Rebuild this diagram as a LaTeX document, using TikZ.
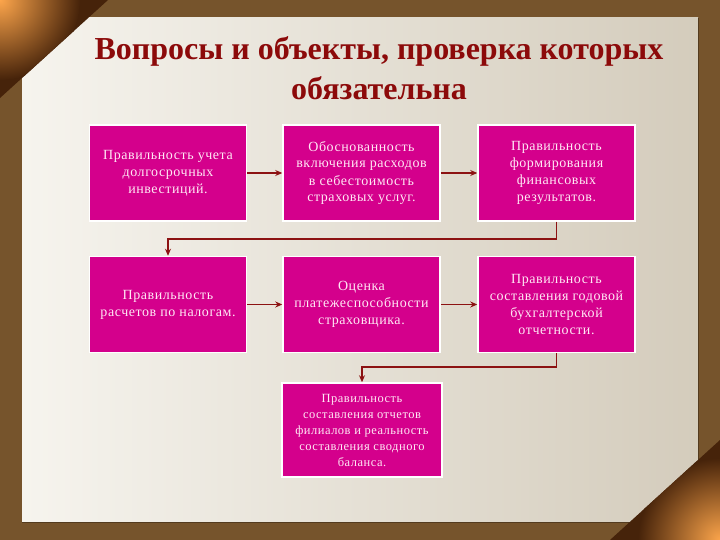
\documentclass[tikz,border=0pt]{standalone}
\usepackage{fontspec}
\setmainfont{Liberation Serif}
\newfontfamily\boxfont[LetterSpace=4]{Liberation Serif}
\usetikzlibrary{arrows.meta}
\definecolor{frame}{RGB}{118,84,44}
\definecolor{paperL}{RGB}{246,244,238}
\definecolor{paperR}{RGB}{212,204,188}
\definecolor{boxfill}{RGB}{212,0,140}
\definecolor{boxtext}{RGB}{255,232,244}
\definecolor{arrowred}{RGB}{140,18,18}
\definecolor{titlered}{RGB}{140,10,10}
\definecolor{curlA}{RGB}{252,165,75}
\definecolor{curlB}{RGB}{70,35,10}
\tikzset{
  box/.style={draw=white, line width=1.5pt, fill=boxfill, minimum width=157pt, minimum height=96pt,
    inner sep=1pt, text=boxtext, align=center, font=\boxfont\fontsize{14}{17}\selectfont},
  arr/.style={draw=arrowred, line width=1.5pt, -{Stealth[length=7pt,width=6pt]}},
  titlestyle/.style={text=titlered, align=center, font=\fontsize{32}{40}\selectfont\bfseries}
}
\begin{document}
\begin{tikzpicture}[x=1pt,y=-1pt]
\useasboundingbox (0,0) rectangle (720,540);
% frame and paper
\fill[frame] (0,0) rectangle (720,540);
\shade[left color=paperL, right color=paperR] (22,18) rectangle (698,522);
\draw[frame!70!black, line width=1pt] (698,18) -- (698,522) -- (22,522);
% curls
\begin{scope}
  \clip (0,0) -- (108,0) -- (0,98) -- cycle;
  \fill[curlB] (0,0) rectangle (110,100);
  \shade[inner color=curlA, outer color=curlB] (0,0) circle (80);
\end{scope}
\begin{scope}
  \clip (720,440) -- (720,540) -- (610,540) -- cycle;
  \fill[curlB] (608,438) rectangle (720,540);
  \shade[inner color=curlA, outer color=curlB] (720,540) circle (82);
\end{scope}
% title
\node[titlestyle] (title) at (379,68) {Вопросы и объекты, проверка которых\\обязательна};
% boxes
\node[box] (b1) at (168,173) {Правильность учета\\долгосрочных\\инвестиций.};
\node[box] (b2) at (361.5,173) {Обоснованность\\включения расходов\\в себестоимость\\страховых услуг.};
\node[box] (b3) at (556.5,173) {Правильность\\формирования\\финансовых\\результатов.};
\node[box] (b4) at (168,304.5) {Правильность\\расчетов по налогам.};
\node[box] (b5) at (361.5,304.5) {Оценка\\платежеспособности\\страховщика.};
\node[box] (b6) at (556.5,304.5) {Правильность\\составления годовой\\бухгалтерской\\отчетности.};
\node[box, minimum width=160pt, minimum height=94pt, font=\boxfont\fontsize{12.5}{16}\selectfont] (b7) at (362,430) {Правильность\\составления отчетов\\филиалов и реальность\\составления сводного\\баланса.};
% connectors
\draw[arr] (b1) -- (b2);
\draw[arr] (b2) -- (b3);
\draw[arr] (b4) -- (b5);
\draw[arr] (b5) -- (b6);
\draw[arr] (b3.south) -- (b3.south |- 0,239) -| (b4.north);
\draw[arr] (b6.south) -- (b6.south |- 0,367) -| (b7.north);
\end{tikzpicture}
\end{document}
